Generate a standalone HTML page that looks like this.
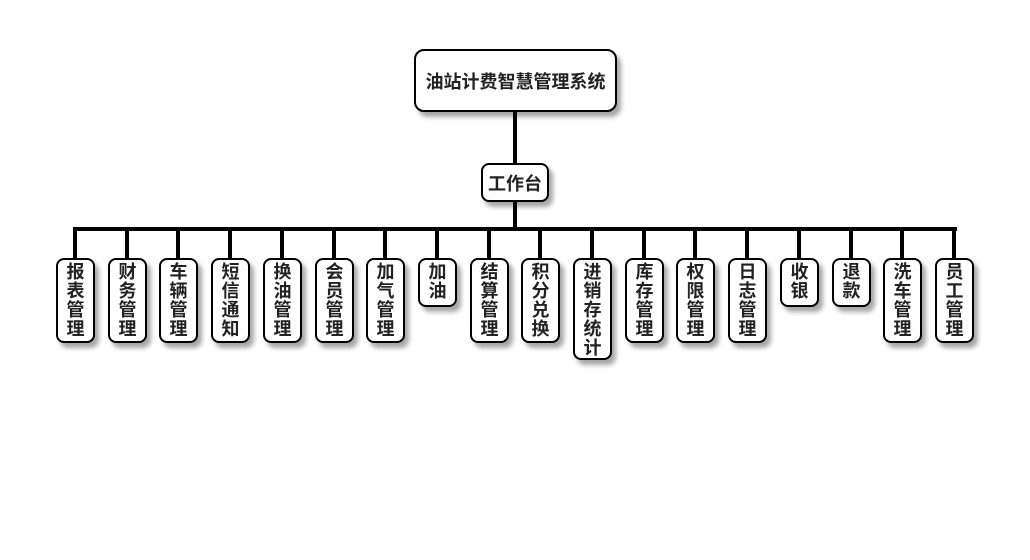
<!DOCTYPE html>
<html><head><meta charset="utf-8"><style>
body{margin:0;width:1030px;height:560px;background:#fff;position:relative;overflow:hidden;font-family:"Liberation Sans","Noto Sans CJK SC",sans-serif;font-weight:bold;color:#222}
.b{position:absolute;background:#fff;border:2px solid #000;border-radius:8px;box-shadow:4px 5px 5px rgba(0,0,0,0.35);box-sizing:border-box;display:flex;align-items:center;justify-content:center;text-align:center}
.c{width:39px;top:258px;font-size:18px;line-height:19px;align-items:flex-start;padding-top:3px}
.l{position:absolute;background:#000}
</style></head><body>
<div class="l" style="left:513px;top:110px;width:4px;height:55px"></div>
<div class="l" style="left:513px;top:200px;width:4px;height:30px"></div>
<div class="l" style="left:73px;top:227px;width:884px;height:4px"></div>
<div class="b" style="left:414px;top:49px;width:203px;height:63px;border-radius:10px;font-size:18px">油站计费智慧管理系统</div>
<div class="b" style="left:481px;top:163px;width:68px;height:39px;font-size:18px">工作台</div>
<div id="k"></div>
<script>
var items=["报表管理","财务管理","车辆管理","短信通知","换油管理","会员管理","加气管理","加油","结算管理","积分兑换","进销存统计","库存管理","权限管理","日志管理","收银","退款","洗车管理","员工管理"];
var h="";
for(var i=0;i<items.length;i++){
 var cx=Math.round(75+i*51.7);
 var n=items[i].length;
 var ht=n==2?49:(n==4?85:102);
 h+='<div class="l" style="left:'+(cx-2)+'px;top:229px;width:4px;height:30px"></div>';
 h+='<div class="b c" style="left:'+(cx-19)+'px;height:'+ht+'px">'+items[i].split("").join("<br>")+'</div>';
}
document.getElementById("k").innerHTML=h;
</script>
</body></html>
